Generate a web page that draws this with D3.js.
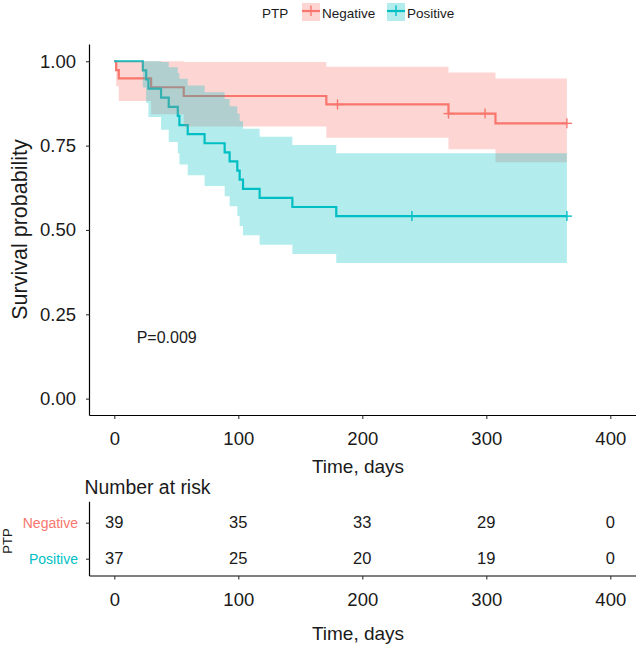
<!DOCTYPE html>
<html><head><meta charset="utf-8">
<script src="https://cdn.jsdelivr.net/npm/d3@7"></script>
<style>
body{margin:0;background:#fff}
svg{display:block}
text{font-family:"Liberation Sans",Arial,Helvetica,sans-serif}
</style>
</head><body>
<svg id="c" width="636" height="645"></svg>
<script>
// ---- data ----
const groups = ["Negative", "Positive"];
const groupColors = ["#F8766D", "#00BFC4"];

const negTime  = [0, 1.5, 3.6, 29.7, 56, 171, 269.5, 307.4, 365];
const negSurv  = [1, 0.974, 0.949, 0.923, 0.897, 0.872, 0.845, 0.816, 0.816];
const negLower = [1, 0.926, 0.882, 0.843, 0.807, 0.773, 0.739, 0.701, 0.701];
const negUpper = [1, 1, 1, 1, 0.998, 0.984, 0.967, 0.949, 0.949];
const negCensor = [180, 269.5, 299, 365];

const posTime  = [0, 23, 25.7, 27.5, 37.7, 43.9, 51.2, 52.5, 59.2, 72.8, 89, 93, 99.2, 101.1, 103.8, 117.2, 143.6, 179, 365];
const posSurv  = [1, 0.973, 0.946, 0.919, 0.892, 0.865, 0.838, 0.811, 0.784, 0.757, 0.730, 0.703, 0.676, 0.649, 0.622, 0.595, 0.568, 0.541, 0.541];
const posLower = [1, 0.922, 0.876, 0.835, 0.797, 0.761, 0.727, 0.694, 0.662, 0.630, 0.600, 0.570, 0.541, 0.512, 0.484, 0.456, 0.429, 0.402, 0.402];
const posUpper = [1, 1, 1, 1, 0.998, 0.982, 0.965, 0.948, 0.928, 0.908, 0.888, 0.867, 0.845, 0.822, 0.800, 0.776, 0.752, 0.727, 0.727];
const posCensor = [240, 365];

const xTicks = [0, 100, 200, 300, 400];
const yTicks = [0, 0.25, 0.5, 0.75, 1];
const riskTimes = [0, 100, 200, 300, 400];
const negRisk = [39, 35, 33, 29, 0];
const posRisk = [37, 25, 20, 19, 0];
const pText = "P=0.009";

// ---- build ----
const series = [
  {name: groups[0], color: groupColors[0], t: negTime, s: negSurv, lo: negLower, hi: negUpper, c: negCensor, risk: negRisk},
  {name: groups[1], color: groupColors[1], t: posTime, s: posSurv, lo: posLower, hi: posUpper, c: posCensor, risk: posRisk}
];
series.forEach(d => { d.pts = d.t.map((t, i) => ({t, s: d.s[i], lo: d.lo[i], hi: d.hi[i]})); });

const svg = d3.select("#c");
const FONT = '"Liberation Sans",Arial,Helvetica,sans-serif';
const INK = "#1a1a1a";

const x = d3.scaleLinear().domain([-20, 420]).range([89.5, 635.1]);
const y = d3.scaleLinear().domain([-0.05, 1.05]).range([415.5, 44.4]);

// ---- main panel ----
const main = svg.append("g");

const line = d3.line().curve(d3.curveStepAfter).x(d => x(d.t)).y(d => y(d.s));
const area = d3.area().curve(d3.curveStepAfter).x(d => x(d.t)).y0(d => y(d.lo)).y1(d => y(d.hi));

series.forEach(d => {
  main.append("path").attr("d", line(d.pts)).attr("fill", "none")
    .attr("stroke", d.color).attr("stroke-width", 2.2);
});
series.forEach(d => {
  main.append("path").attr("d", area(d.pts)).attr("fill", d.color).attr("fill-opacity", 0.3).attr("stroke", "none");
});
function survAt(d, t) {
  let v = d.s[0];
  for (let i = 0; i < d.t.length; i++) if (d.t[i] <= t) v = d.s[i];
  return v;
}
series.forEach(d => {
  const g = main.append("g").attr("stroke", d.color).attr("stroke-width", 1.4);
  d.c.forEach(t => {
    const cx = x(t), cy = y(survAt(d, t));
    g.append("line").attr("x1", cx - 5).attr("x2", cx + 5).attr("y1", cy).attr("y2", cy);
    g.append("line").attr("x1", cx).attr("x2", cx).attr("y1", cy - 5).attr("y2", cy + 5);
  });
});

// axes
const yAxis = main.append("g").attr("transform", "translate(89.5,0)")
  .call(d3.axisLeft(y).tickValues(yTicks).tickFormat(d3.format(".2f")).tickSize(3.5).tickSizeOuter(0).tickPadding(10));
const xAxis = main.append("g").attr("transform", "translate(0,415.5)")
  .call(d3.axisBottom(x).tickValues(xTicks).tickFormat(d3.format("d")).tickSize(3.5).tickSizeOuter(0).tickPadding(12.5));
[yAxis, xAxis].forEach(a => {
  a.selectAll("path.domain").attr("stroke", "#000").attr("stroke-width", 1.2);
  a.selectAll(".tick line").attr("stroke", "#333").attr("stroke-width", 1.1);
  a.selectAll(".tick text").attr("font-size", 18.5).attr("font-family", FONT).attr("fill", INK);
});
xAxis.select("path.domain").attr("d", "M89.5,0H636");
yAxis.select("path.domain").attr("d", "M0,44.4V415.5");

main.append("text").attr("x", 358).attr("y", 472.5).attr("text-anchor", "middle")
  .attr("font-size", 19).attr("fill", INK).text("Time, days");
main.append("text").attr("transform", "translate(26.5,229.5) rotate(-90)").attr("text-anchor", "middle")
  .attr("font-size", 21.5).attr("fill", INK).text("Survival probability");
main.append("text").attr("x", 136.7).attr("y", 342.5).attr("font-size", 16).attr("fill", INK).text(pText);

// ---- legend ----
const leg = svg.append("g");
leg.append("text").attr("x", 262).attr("y", 17.8).attr("font-size", 13.5).attr("fill", INK).text("PTP");
const legX = [302, 387];
series.forEach((d, i) => {
  const lx = legX[i];
  leg.append("rect").attr("x", lx).attr("y", 3).attr("width", 18).attr("height", 18)
    .attr("fill", d.color).attr("fill-opacity", 0.3);
  leg.append("line").attr("x1", lx).attr("x2", lx + 18).attr("y1", 11).attr("y2", 11)
    .attr("stroke", d.color).attr("stroke-width", 2.2);
  leg.append("line").attr("x1", lx + 9).attr("x2", lx + 9).attr("y1", 5.5).attr("y2", 16)
    .attr("stroke", d.color).attr("stroke-width", 1.4);
  leg.append("text").attr("x", lx + 20).attr("y", 17.8).attr("font-size", 13.5).attr("fill", INK).text(d.name);
});

// ---- risk table ----
const tbl = svg.append("g");
const ry = d3.scalePoint().domain(groups).range([522.7, 558.7]);
tbl.append("text").attr("x", 84.5).attr("y", 494).attr("font-size", 19.4).attr("fill", INK).text("Number at risk");

series.forEach(d => {
  d.risk.forEach((v, i) => {
    tbl.append("text").attr("x", x(riskTimes[i])).attr("y", ry(d.name)).attr("dy", "0.35em")
      .attr("text-anchor", "middle").attr("font-size", 16.5).attr("fill", INK).text(v);
  });
});
const tyAxis = tbl.append("g").attr("transform", "translate(89.5,0)")
  .call(d3.axisLeft(ry).tickSize(3.5).tickSizeOuter(0).tickPadding(8));
tyAxis.select("path.domain").attr("d", "M0,501.7V576").attr("stroke", "#000").attr("stroke-width", 1.2);
tyAxis.selectAll(".tick line").attr("stroke", "#333").attr("stroke-width", 1.1);
tyAxis.selectAll(".tick text").attr("font-size", 14).attr("font-family", FONT)
  .attr("fill", d => groupColors[groups.indexOf(d)]);

const txAxis = tbl.append("g").attr("transform", "translate(0,576)")
  .call(d3.axisBottom(x).tickValues(xTicks).tickFormat(d3.format("d")).tickSize(3.5).tickSizeOuter(0).tickPadding(13.5));
txAxis.select("path.domain").attr("d", "M89.5,0H636").attr("stroke", "#000").attr("stroke-width", 1.2);
txAxis.selectAll(".tick line").attr("stroke", "#333").attr("stroke-width", 1.1);
txAxis.selectAll(".tick text").attr("font-size", 18.5).attr("font-family", FONT).attr("fill", INK);

tbl.append("text").attr("x", 358).attr("y", 640).attr("text-anchor", "middle")
  .attr("font-size", 19).attr("fill", INK).text("Time, days");
tbl.append("text").attr("transform", "translate(11.5,541) rotate(-90)").attr("text-anchor", "middle")
  .attr("font-size", 13).attr("fill", INK).text("PTP");
</script>
</body></html>
